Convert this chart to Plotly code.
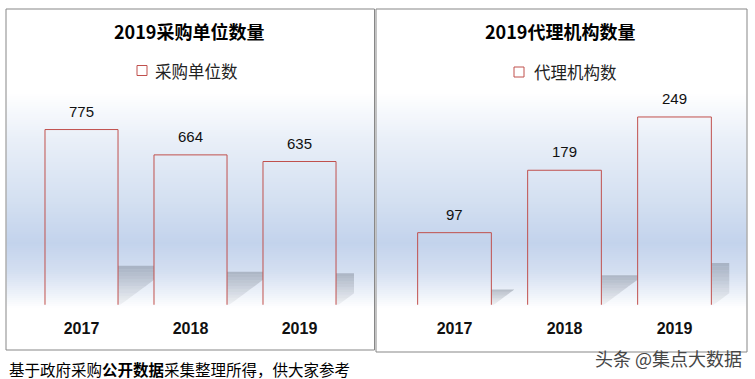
import plotly.graph_objects as go

# ---------------- data ----------------
years = ["2017", "2018", "2019"]
unit_counts = [775, 664, 635]
agency_counts = [97, 179, 249]
panel_titles = ["2019采购单位数量", "2019代理机构数量"]
series_names = ["采购单位数", "代理机构数"]
footer_text = "基于政府采购<b>公开数据</b>采集整理所得，供大家参考"
watermark_text = "头条 @集点大数据"

# ---------------- layout helpers ----------------
W, H = 755, 379
def px(x):
    return x / W
def py(y):
    return 1 - y / H

RED = "rgb(192,80,77)"
PLOT_TOP, ZERO_Y, PLOT_BOT = 101, 306.5, 304.8

panels = [
    dict(values=unit_counts, name=series_names[0], title=panel_titles[0],
         ax="", dom_x=(27, 354), rng=900, box=(6, 9, 374.5, 350),
         title_x=189, leg_sq=137, leg_txt=153, leg_y=70.5),
    dict(values=agency_counts, name=series_names[1], title=panel_titles[1],
         ax="2", dom_x=(399.5, 729.5), rng=270, box=(376, 9, 747, 352),
         title_x=560, leg_sq=514, leg_txt=532, leg_y=72),
]

# background gradient stops (pixel y -> colour)
grad = [(92, (255, 255, 255)), (140, (233, 239, 248)), (200, (212, 224, 241)),
        (243, (195, 211, 236)), (272, (212, 223, 241)), (296, (240, 244, 250)),
        (308, (255, 255, 255))]

def grad_color(y):
    for (y0, c0), (y1, c1) in zip(grad[:-1], grad[1:]):
        if y0 <= y <= y1:
            t = (y - y0) / (y1 - y0)
            return "rgb(%d,%d,%d)" % tuple(round(a + (b - a) * t) for a, b in zip(c0, c1))
    return "white"

fig = go.Figure()
shapes = []
annotations = []
BAR_W = 0.67

for p in panels:
    x0b, y0b, x1b, y1b = p["box"]
    # gradient stripes
    step = 2
    y = grad[0][0]
    while y < grad[-1][0]:
        shapes.append(dict(type="rect", xref="paper", yref="paper",
                           x0=px(x0b + 0.5), x1=px(x1b - 0.5), y0=py(y + step), y1=py(y),
                           fillcolor=grad_color(y + step / 2), line_width=0, layer="below"))
        y += step
    # panel border
    shapes.append(dict(type="rect", xref="paper", yref="paper",
                       x0=px(x0b), x1=px(x1b), y0=py(y1b), y1=py(y0b),
                       line=dict(color="rgb(135,135,135)", width=1), fillcolor="rgba(0,0,0,0)",
                       layer="above"))

    xa = "x" + p["ax"]
    ya = "y" + p["ax"]
    ppy = (ZERO_Y - PLOT_TOP) / p["rng"]
    ppx = (p["dom_x"][1] - p["dom_x"][0]) / len(years)
    ymin = (ZERO_Y - PLOT_BOT) / ppy

    # perspective shadows behind bars
    n = len(p["values"])
    for i, v in enumerate(p["values"]):
        hk = 0.23 * v
        dx = hk * ppy * 1.35 / ppx
        x1 = i + BAR_W / 2
        xc = min(x1 + dx, (i + 1 - BAR_W / 2) if i < n - 1 else n - 0.5)
        nb = 12
        for k in range(nb):
            ya_ = hk * k / nb
            yb_ = hk * (k + 1) / nb
            xa_ = min(x1 + dx * ya_ / hk, xc)
            xb_ = min(x1 + dx * yb_ / hk, xc)
            pts = [(x1, ya_), (xa_, ya_)]
            xcut_y = hk * (xc - x1) / dx
            if ya_ < xcut_y < yb_:
                pts.append((xc, xcut_y))
            pts += [(xb_, yb_), (x1, yb_)]
            path = "M " + " L ".join("%f,%f" % q for q in pts) + " Z"
            alpha = 0.08 + 0.40 * ((k + 0.5) / nb) ** 1.3
            shapes.append(dict(type="path", xref=xa, yref=ya, path=path,
                               fillcolor="rgba(125,132,145,%.3f)" % alpha,
                               line_width=0, layer="below"))

    fig.add_trace(go.Bar(
        x=list(range(len(years))), y=p["values"], name=p["name"],
        xaxis=xa, yaxis=ya, width=BAR_W,
        marker=dict(color="rgba(0,0,0,0)", line=dict(color=RED, width=1)),
        showlegend=False, hoverinfo="x+y"))

    # value labels
    for i, v in enumerate(p["values"]):
        annotations.append(dict(x=i, y=v, xref=xa, yref=ya, text=str(v), showarrow=False,
                                yanchor="middle", yshift=18.5,
                                font=dict(family="Liberation Sans, Noto Sans CJK SC", size=15,
                                          color="#111")))
    # title
    annotations.append(dict(x=px(p["title_x"]), y=py(31), xref="paper", yref="paper",
                            text="<b>%s</b>" % p["title"], showarrow=False,
                            xanchor="center", yanchor="middle",
                            font=dict(family="Noto Sans CJK SC", size=18, color="#000")))
    # legend (manual)
    ly = p["leg_y"]
    shapes.append(dict(type="rect", xref="paper", yref="paper",
                       x0=px(p["leg_sq"]), x1=px(p["leg_sq"] + 10),
                       y0=py(ly + 5), y1=py(ly - 5),
                       line=dict(color=RED, width=1), fillcolor="rgba(255,255,255,0)",
                       layer="above"))
    annotations.append(dict(x=px(p["leg_txt"]), y=py(ly), xref="paper", yref="paper",
                            text=p["name"], showarrow=False, xanchor="left", yanchor="middle",
                            font=dict(family="Noto Sans CJK SC", size=16.5, color="#222")))

    fig.update_layout(**{
        "xaxis" + p["ax"]: dict(showgrid=False, zeroline=False, showline=False, ticks="",
                                domain=[px(p["dom_x"][0]), px(p["dom_x"][1])],
                                range=[-0.5, len(years) - 0.5], tickmode="array",
                                tickvals=list(range(len(years))), ticktext=years,
                                tickfont=dict(family="Liberation Sans", size=16, color="#111",
                                              weight="bold"),
                                ticklabelstandoff=12, anchor="y" + p["ax"], fixedrange=True),
        "yaxis" + p["ax"]: dict(showgrid=False, zeroline=False, showline=False, ticks="",
                                domain=[py(PLOT_BOT), py(PLOT_TOP)],
                                range=[ymin, p["rng"]], visible=False,
                                anchor="x" + p["ax"], fixedrange=True),
    })

# footer and watermark
annotations.append(dict(x=px(7), y=py(369), xref="paper", yref="paper", text=footer_text,
                        showarrow=False, xanchor="left", yanchor="middle",
                        font=dict(family="Noto Sans CJK SC", size=15.5, color="#000")))
annotations.append(dict(x=px(744), y=py(358), xref="paper", yref="paper", text=watermark_text,
                        showarrow=False, xanchor="right", yanchor="middle",
                        font=dict(family="Noto Sans CJK SC", size=18, color="rgb(70,70,70)")))

fig.update_layout(
    width=W, height=H, margin=dict(l=0, r=0, t=0, b=0),
    paper_bgcolor="white", plot_bgcolor="rgba(0,0,0,0)",
    shapes=shapes, annotations=annotations, showlegend=False, bargap=0.33,
)

fig.write_html("out.html", config={"displayModeBar": False})
